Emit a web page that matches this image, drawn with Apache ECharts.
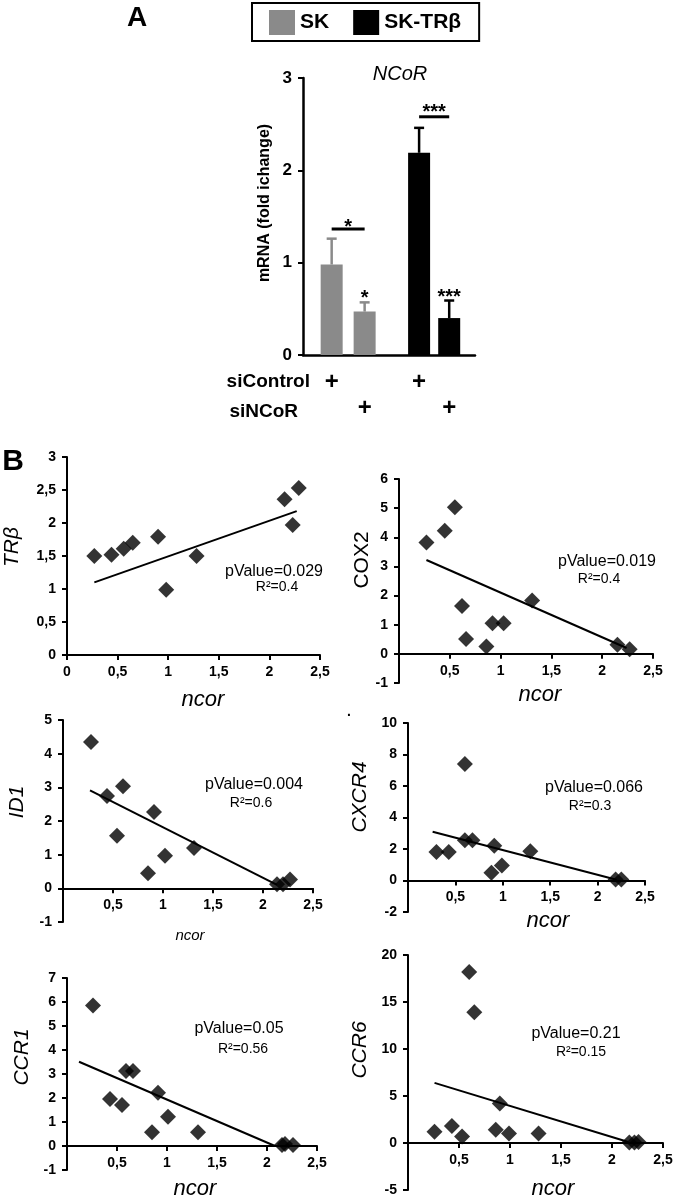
<!DOCTYPE html>
<html>
<head>
<meta charset="utf-8">
<script src="https://cdn.jsdelivr.net/npm/echarts@6/dist/echarts.min.js"></script>
<style>
html, body { margin: 0; padding: 0; background: #fff; }
#chart { width: 677px; height: 1198px; }
</style>
</head>
<body>
<div id="chart"></div>
<script>
// ---- panel A : NCoR mRNA (fold change) ----
var groupNames = ['SK', 'SK-TRβ'];
var skMean = [0.98, 0.47];
var skUpper = [1.26, 0.57];
var trbMean = [2.19, 0.40];
var trbUpper = [2.46, 0.59];
var siControlRow = ['+', '', '+', ''];
var siNCoRRow = ['', '+', '', '+'];
var barStars = ['', '*', '', '***'];
var barStarY = [0, 0.67, 0, 0.68];
var bracketFrom = [0, 2];
var bracketTo = [1, 3];
var bracketY = [1.365, 2.58];
var bracketText = ['*', '***'];
var bracketTextY = [1.44, 2.68];

// ---- panel B : correlations with ncor ----
var trbX = [0.27, 0.44, 0.56, 0.65, 0.90, 0.98, 1.28, 2.15, 2.23, 2.29];
var trbY = [1.50, 1.52, 1.61, 1.70, 1.79, 0.99, 1.50, 2.36, 1.97, 2.53];
var trbFit = [[0.27, 1.10], [2.27, 2.18]];

var cox2X = [0.27, 0.45, 0.55, 0.62, 0.66, 0.86, 0.92, 1.03, 1.31, 2.15, 2.27];
var cox2Y = [3.82, 4.22, 5.03, 1.64, 0.51, 0.25, 1.05, 1.05, 1.83, 0.31, 0.16];
var cox2Fit = [[0.27, 3.22], [2.24, 0.20]];

var id1X = [0.28, 0.44, 0.60, 0.54, 0.91, 0.85, 1.02, 1.31, 2.14, 2.20, 2.27];
var id1Y = [4.35, 2.74, 3.03, 1.56, 2.27, 0.45, 0.97, 1.20, 0.12, 0.12, 0.26];
var id1Fit = [[0.27, 2.91], [2.14, 0.10]];

var cxcr4X = [0.30, 0.43, 0.60, 0.60, 0.68, 0.88, 0.91, 0.99, 1.29, 2.19, 2.25];
var cxcr4Y = [1.81, 1.81, 7.40, 2.56, 2.56, 0.49, 2.20, 0.96, 1.86, 0.06, 0.06];
var cxcr4Fit = [[0.26, 3.10], [2.20, 0.05]];

var ccr1X = [0.26, 0.43, 0.55, 0.59, 0.66, 0.85, 0.91, 1.01, 1.31, 2.15, 2.18, 2.26];
var ccr1Y = [5.85, 1.96, 1.71, 3.13, 3.13, 0.57, 2.22, 1.22, 0.57, 0.04, 0.08, 0.04];
var ccr1Fit = [[0.12, 3.51], [2.08, 0.00]];

var ccr6X = [0.26, 0.43, 0.53, 0.60, 0.65, 0.86, 0.90, 0.99, 1.28, 2.17, 2.22, 2.26];
var ccr6Y = [1.2, 1.8, 0.7, 18.2, 13.9, 1.4, 4.2, 1.0, 1.0, 0.05, 0.05, 0.1];
var ccr6Fit = [[0.26, 6.4], [2.16, 0.1]];

var FONT = "'Liberation Sans', Arial, Helvetica, sans-serif";
var GRAY = '#8a8a8a';

var chart = echarts.init(document.getElementById('chart'));

// bar slots along a 0..6 value axis
var slotX = [1.0, 2.15, 4.05, 5.1];

function pair(xs, ys) {
	return xs.map(function (x, i) { return [x, ys[i]]; });
}
function comma(v) {
	return String(v).replace('.', ',');
}

var panels = [
	{ name: 'TRβ', italic: true, x: trbX, y: trbY, fit: trbFit, p: 'pValue=0.029', r: 'R²=0.4',
		grid: { left: 67, top: 457, width: 253, height: 198 }, yMin: 0, yMax: 3, yStep: 0.5,
		nameXY: [12, 547], pXY: [274, 572], rXY: [277, 587], ncorXY: [203, 700], ncorSize: 22 },
	{ name: 'COX2', italic: false, x: cox2X, y: cox2Y, fit: cox2Fit, p: 'pValue=0.019', r: 'R²=0.4',
		grid: { left: 399, top: 479, width: 254, height: 204 }, yMin: -1, yMax: 6, yStep: 1,
		nameXY: [362, 560], pXY: [607, 562], rXY: [599, 579], ncorXY: [540, 695], ncorSize: 22 },
	{ name: 'ID1', italic: true, x: id1X, y: id1Y, fit: id1Fit, p: 'pValue=0.004', r: 'R²=0.6',
		grid: { left: 63, top: 720, width: 250, height: 202 }, yMin: -1, yMax: 5, yStep: 1,
		nameXY: [17, 802], pXY: [254, 785], rXY: [251, 803], ncorXY: [190, 936], ncorSize: 15 },
	{ name: 'CXCR4', italic: true, x: cxcr4X, y: cxcr4Y, fit: cxcr4Fit, p: 'pValue=0.066', r: 'R²=0.3',
		grid: { left: 408, top: 723, width: 237, height: 189 }, yMin: -2, yMax: 10, yStep: 2,
		nameXY: [360, 797], pXY: [594, 788], rXY: [590, 806], ncorXY: [548, 921], ncorSize: 22 },
	{ name: 'CCR1', italic: true, x: ccr1X, y: ccr1Y, fit: ccr1Fit, p: 'pValue=0.05', r: 'R²=0.56',
		grid: { left: 67, top: 978, width: 250, height: 192 }, yMin: -1, yMax: 7, yStep: 1,
		nameXY: [22, 1057], pXY: [239, 1029], rXY: [243, 1049], ncorXY: [195, 1189], ncorSize: 22 },
	{ name: 'CCR6', italic: true, x: ccr6X, y: ccr6Y, fit: ccr6Fit, p: 'pValue=0.21', r: 'R²=0.15',
		grid: { left: 408, top: 955, width: 255, height: 235 }, yMin: -5, yMax: 20, yStep: 5,
		nameXY: [360, 1050], pXY: [576, 1034], rXY: [581, 1052], ncorXY: [553, 1189], ncorSize: 22 }
];

var axisLine = { show: true, lineStyle: { color: '#000', width: 2 } };
var axisTick = { show: true, length: 5, lineStyle: { color: '#000', width: 2 } };

var grids = [{ left: 303, top: 78, width: 172, height: 277 }];
var xAxes = [{
	gridIndex: 0, type: 'value', min: 0, max: 6,
	axisLine: { show: true, lineStyle: { color: '#000', width: 2.5 } },
	axisTick: { show: false }, axisLabel: { show: false }, splitLine: { show: false }
}];
var yAxes = [{
	gridIndex: 0, type: 'value', min: 0, max: 3, interval: 1,
	axisLine: { show: true, lineStyle: { color: '#000', width: 2.5 } },
	axisTick: { show: true, length: 5, lineStyle: { color: '#000', width: 2 } },
	axisLabel: { margin: 11, fontFamily: FONT, fontWeight: 'bold', fontSize: 17, color: '#000' },
	splitLine: { show: false }
}];

function barData(vals, offset) {
	return vals.map(function (v, i) { return [slotX[offset + i], v]; });
}
function errData(mean, upper, offset) {
	return mean.map(function (v, i) { return [slotX[offset + i], v, upper[i]]; });
}
function errSeries(name, data, color) {
	return {
		name: name, type: 'custom', xAxisIndex: 0, yAxisIndex: 0, data: data, z: 3,
		renderItem: function (params, api) {
			var p1 = api.coord([api.value(0), api.value(1)]);
			var p2 = api.coord([api.value(0), api.value(2)]);
			return { type: 'group', children: [
				{ type: 'line', shape: { x1: p1[0], y1: p1[1], x2: p2[0], y2: p2[1] }, style: { stroke: color, lineWidth: 2.5 } },
				{ type: 'line', shape: { x1: p2[0] - 5, y1: p2[1], x2: p2[0] + 5, y2: p2[1] }, style: { stroke: color, lineWidth: 2.5 } }
			] };
		}
	};
}

var series = [
	{ name: groupNames[0], type: 'bar', xAxisIndex: 0, yAxisIndex: 0, barWidth: 22, barGap: '-100%',
		itemStyle: { color: GRAY }, data: barData(skMean, 0) },
	{ name: groupNames[1], type: 'bar', xAxisIndex: 0, yAxisIndex: 0, barWidth: 22, barGap: '-100%',
		itemStyle: { color: '#000' }, data: barData(trbMean, 2) },
	errSeries('SK err', errData(skMean, skUpper, 0), GRAY),
	errSeries('SK-TRβ err', errData(trbMean, trbUpper, 2), '#000'),
	{
		name: 'brackets', type: 'custom', xAxisIndex: 0, yAxisIndex: 0,
		data: bracketFrom.map(function (a, i) { return [slotX[a], slotX[bracketTo[i]], bracketY[i], bracketTextY[i], i]; }),
		renderItem: function (params, api) {
			var p1 = api.coord([api.value(0), api.value(2)]);
			var p2 = api.coord([api.value(1), api.value(2)]);
			var pt = api.coord([(api.value(0) + api.value(1)) / 2, api.value(3)]);
			return { type: 'group', children: [
				{ type: 'line', shape: { x1: p1[0], y1: p1[1], x2: p2[0], y2: p2[1] }, style: { stroke: '#000', lineWidth: 3 } },
				{ type: 'text', x: pt[0], y: pt[1] + 5, style: { text: bracketText[api.value(4)], font: 'bold 20px ' + FONT, fill: '#000', align: 'center', verticalAlign: 'middle' } }
			] };
		}
	},
	{
		name: 'stars', type: 'custom', xAxisIndex: 0, yAxisIndex: 0,
		data: barStars.map(function (s, i) { return [slotX[i], barStarY[i], i]; }),
		renderItem: function (params, api) {
			var t = barStars[api.value(2)];
			if (!t) return null;
			var p = api.coord([api.value(0), api.value(1)]);
			return { type: 'text', x: p[0], y: p[1] + 5, style: { text: t, font: 'bold 20px ' + FONT, fill: '#000', align: 'center', verticalAlign: 'middle' } };
		}
	},
	{
		name: 'treatment', type: 'custom', xAxisIndex: 0, yAxisIndex: 0,
		data: slotX.map(function (x, i) { return [x, 0, i]; }),
		renderItem: function (params, api) {
			var i = api.value(2);
			var p = api.coord([api.value(0), 0]);
			var kids = [];
			if (siControlRow[i]) kids.push({ type: 'text', x: p[0], y: p[1] + 27, style: { text: siControlRow[i], font: 'bold 24px ' + FONT, fill: '#000', align: 'center', verticalAlign: 'middle' } });
			if (siNCoRRow[i]) kids.push({ type: 'text', x: p[0], y: p[1] + 53, style: { text: siNCoRRow[i], font: 'bold 24px ' + FONT, fill: '#000', align: 'center', verticalAlign: 'middle' } });
			return { type: 'group', children: kids };
		}
	}
];

function txt(x, y, text, size, weight, style, rot) {
	return {
		type: 'text', x: x, y: y, rotation: rot || 0,
		style: { text: text, font: (style || 'normal') + ' ' + (weight || 'normal') + ' ' + size + 'px ' + FONT,
			fill: '#000', align: 'center', verticalAlign: 'middle' }
	};
}

var graphic = [
	txt(137, 18, 'A', 28, 'bold'),
	txt(13, 462, 'B', 30, 'bold'),
	txt(400, 74, 'NCoR', 20, 'normal', 'italic'),
	txt(265, 203, 'mRNA (fold ichange)', 16, 'bold', 'normal', Math.PI / 2),
	{ type: 'text', x: 310, y: 382, style: { text: 'siControl', font: 'bold 19px ' + FONT, fill: '#000', align: 'right', verticalAlign: 'middle' } },
	{ type: 'text', x: 298, y: 412, style: { text: 'siNCoR', font: 'bold 19px ' + FONT, fill: '#000', align: 'right', verticalAlign: 'middle' } },
	txt(349, 712, '.', 14, 'bold')
];

panels.forEach(function (pn, k) {
	var gi = k + 1;
	grids.push(pn.grid);
	var hideZero = pn.yMin < 0;
	// put the x axis (line, ticks and labels) on y = 0
	var zeroShift = pn.grid.height * (0 - pn.yMin) / (pn.yMax - pn.yMin);
	xAxes.push({
		gridIndex: gi, type: 'value', min: 0, max: 2.5, interval: 0.5, position: 'bottom', offset: -zeroShift,
		axisLine: { show: true, onZero: false, lineStyle: { color: '#000', width: 2 } },
		axisTick: axisTick, splitLine: { show: false },
		axisLabel: { margin: 10, fontFamily: FONT, fontWeight: 'bold', fontSize: 14, color: '#000',
			formatter: function (v) { return (hideZero && v === 0) ? '' : comma(v); } }
	});
	yAxes.push({
		gridIndex: gi, type: 'value', min: pn.yMin, max: pn.yMax, interval: pn.yStep,
		axisLine: axisLine, axisTick: axisTick, splitLine: { show: false },
		axisLabel: { margin: 11, fontFamily: FONT, fontWeight: 'bold', fontSize: 14, color: '#000',
			formatter: function (v) { return comma(v); } }
	});
	series.push({
		name: pn.name + ' fit', type: 'line', xAxisIndex: gi, yAxisIndex: gi, data: pn.fit,
		symbol: 'none', lineStyle: { color: '#000', width: 2 }, z: 2
	});
	series.push({
		name: pn.name, type: 'scatter', xAxisIndex: gi, yAxisIndex: gi, data: pair(pn.x, pn.y),
		symbol: 'diamond', symbolSize: 16, itemStyle: { color: '#000' }, z: 3
	});
	graphic.push(txt(pn.nameXY[0], pn.nameXY[1], pn.name, 21, 'normal', pn.italic ? 'italic' : 'normal', Math.PI / 2));
	graphic.push(txt(pn.pXY[0], pn.pXY[1], pn.p, 16));
	graphic.push(txt(pn.rXY[0], pn.rXY[1], pn.r, 14));
	graphic.push(txt(pn.ncorXY[0], pn.ncorXY[1], 'ncor', pn.ncorSize, 'normal', 'italic'));
});

chart.setOption({
	animation: false,
	backgroundColor: '#fff',
	legend: {
		data: groupNames, left: 252, top: 3, icon: 'rect', itemWidth: 26, itemHeight: 25, itemGap: 24,
		padding: [7, 18, 6, 17], borderColor: '#000', borderWidth: 2, selectedMode: false,
		textStyle: { fontFamily: FONT, fontWeight: 'bold', fontSize: 21, color: '#000' }
	},
	grid: grids,
	xAxis: xAxes,
	yAxis: yAxes,
	series: series,
	graphic: graphic
});
</script>
</body>
</html>
